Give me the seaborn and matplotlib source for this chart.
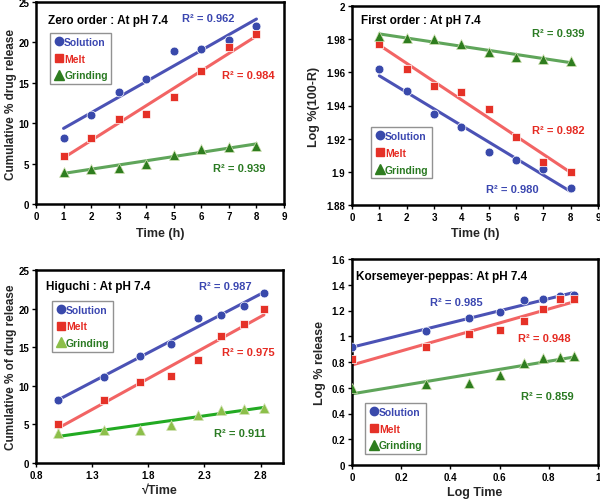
import numpy as np
import matplotlib
matplotlib.use("Agg")
import matplotlib.pyplot as plt
import seaborn as sns
from matplotlib.lines import Line2D
from matplotlib.ticker import FormatStrFormatter

sns.set_theme(style="ticks")
plt.rcParams['font.family'] = ['Liberation Sans', 'DejaVu Sans']
plt.rcParams['font.weight'] = 'bold'

# data
time_h = [1, 2, 3, 4, 5, 6, 7, 8]
sqrt_time = [1.0, 1.41, 1.73, 2.0, 2.24, 2.45, 2.65, 2.83]
log_time = [0.0, 0.301, 0.477, 0.602, 0.699, 0.778, 0.845, 0.903]

zero_solution = [8.2, 11.0, 13.9, 15.5, 18.9, 19.2, 20.3, 22.0]
zero_melt = [6.0, 8.2, 10.5, 11.2, 13.2, 16.5, 19.4, 21.0]
zero_grinding = [4.0, 4.3, 4.5, 5.0, 6.1, 6.8, 7.0, 7.2]

first_solution = [1.962, 1.949, 1.935, 1.927, 1.912, 1.907, 1.902, 1.890]
first_melt = [1.977, 1.962, 1.952, 1.948, 1.938, 1.921, 1.906, 1.900]
first_grinding = [1.982, 1.981, 1.980, 1.977, 1.972, 1.969, 1.968, 1.967]

higuchi_solution = [8.2, 11.1, 13.8, 15.4, 18.8, 19.2, 20.3, 22.0]
higuchi_melt = [5.0, 8.2, 10.5, 11.3, 13.3, 16.5, 18.0, 20.0]
higuchi_grinding = [3.9, 4.3, 4.3, 4.9, 6.2, 6.9, 7.0, 7.1]

kp_solution = [0.92, 1.04, 1.14, 1.19, 1.28, 1.29, 1.31, 1.32]
kp_melt = [0.82, 0.92, 1.02, 1.05, 1.12, 1.21, 1.29, 1.29]
kp_grinding = [0.60, 0.63, 0.64, 0.70, 0.79, 0.83, 0.84, 0.85]

series_names = ['Solution', 'Melt', 'Grinding']
r2_zero = ['0.962', '0.984', '0.939']
r2_first = ['0.980', '0.982', '0.939']
r2_higuchi = ['0.987', '0.975', '0.911']
r2_kp = ['0.985', '0.948', '0.859']

marker_colors = ['#3949ab', '#e53127', '#2e7d1f']
line_colors = ['#4b52b5', '#f26464', '#5fa55a']
text_colors = ['#3a46b0', '#e52a22', '#2a7a22']
markers = ['o', 's', '^']
msizes = [40, 36, 50]

fig = plt.figure(figsize=(6, 5.02), dpi=100)
W, H = 600, 502


def add_ax(l, t, r, b):
    return fig.add_axes([l / W, 1 - b / H, (r - l) / W, (b - t) / H])


def panel(ax, x, ys, title, r2, r2_pos, leg_pos, gcolors=None):
    mcols = list(marker_colors)
    lcols = list(line_colors)
    if gcolors:
        mcols[2], lcols[2] = gcolors
    for i, y in enumerate(ys):
        # linear trendline + points
        sns.regplot(x=np.array(x), y=np.array(y), ax=ax, scatter=False, ci=None,
                    truncate=True, line_kws=dict(color=lcols[i], lw=2.2, zorder=2))
        sns.scatterplot(x=x, y=y, ax=ax, marker=markers[i], s=msizes[i],
                        color=mcols[i], edgecolor='#cfe0b0' if i == 2 else 'white',
                        linewidth=0.5, zorder=3)
        ax.text(r2_pos[i][0], r2_pos[i][1], 'R² = ' + r2[i], transform=ax.transAxes,
                color=text_colors[i], fontsize=8, fontweight='bold', va='center')
    ax.text(title[1], title[2], title[0], transform=ax.transAxes, fontsize=8.5,
            fontweight='bold', va='center', color='black')
    handles = [Line2D([], [], ls='none', marker=markers[i], color=mcols[i],
                      markersize=6 if i < 2 else 7) for i in range(3)]
    leg = ax.legend(handles, series_names, loc='upper left', bbox_to_anchor=leg_pos,
                    frameon=True, fancybox=False, edgecolor='#777777', fontsize=7.5,
                    handletextpad=0.0, handlelength=1.0, borderpad=0.35,
                    labelspacing=0.65, borderaxespad=0)
    leg.get_frame().set_linewidth(1.0)
    for t, c in zip(leg.get_texts(), text_colors):
        t.set_color(c)
        t.set_fontweight('bold')
    for s in ax.spines.values():
        s.set_linewidth(1.8)
        s.set_color('black')
        s.set_visible(True)
    ax.tick_params(labelsize=7, width=1, length=3, colors='black', direction='out', pad=2)
    for lab in ax.get_xticklabels() + ax.get_yticklabels():
        lab.set_fontweight('bold')


# zero order
ax1 = add_ax(36, 3, 284, 205)
ax1.set_xlim(0, 9)
ax1.set_ylim(0, 25)
ax1.set_xticks(range(0, 10))
ax1.set_yticks(range(0, 26, 5))
panel(ax1, time_h, [zero_solution, zero_melt, zero_grinding],
      ('Zero order : At pH 7.4', 0.05, 0.91), r2_zero,
      [(0.59, 0.92), (0.75, 0.64), (0.715, 0.18)], (0.057, 0.845))
ax1.set_xlabel('Time (h)', fontsize=9, fontweight='bold', labelpad=4)
ax1.set_ylabel('Cumulative % drug release', fontsize=8.5, fontweight='bold', labelpad=1)

# first order
ax2 = add_ax(352, 7, 598, 206)
ax2.set_xlim(0, 9)
ax2.set_ylim(1.88, 2.0)
ax2.set_xticks(range(0, 10))
ax2.set_yticks([1.88, 1.90, 1.92, 1.94, 1.96, 1.98, 2.0])
ax2.set_yticklabels(['1.88', '1.9', '1.92', '1.94', '1.96', '1.98', '2'])
panel(ax2, time_h, [first_solution, first_melt, first_grinding],
      ('First order : At pH 7.4', 0.037, 0.93), r2_first,
      [(0.545, 0.08), (0.73, 0.377), (0.73, 0.865)], (0.077, 0.39))
ax2.set_xlabel('Time (h)', fontsize=9, fontweight='bold', labelpad=4)
ax2.set_ylabel('Log %(100-R)', fontsize=9, fontweight='bold', labelpad=4)

# higuchi
ax3 = add_ax(36, 271, 283, 464)
ax3.set_xlim(0.8, 3.0)
ax3.set_ylim(0, 25)
ax3.set_xticks([0.8, 1.3, 1.8, 2.3, 2.8])
ax3.set_yticks(range(0, 26, 5))
panel(ax3, sqrt_time, [higuchi_solution, higuchi_melt, higuchi_grinding],
      ('Higuchi : At pH 7.4', 0.04, 0.917), r2_higuchi,
      [(0.66, 0.917), (0.753, 0.575), (0.72, 0.155)], (0.065, 0.84),
      gcolors=('#8cbf4a', '#22aa22'))
ax3.set_xlabel('√Time', fontsize=9, fontweight='bold', labelpad=3)
ax3.set_ylabel('Cumulative % of drug release', fontsize=8.5, fontweight='bold', labelpad=1)

# korsmeyer-peppas
ax4 = add_ax(352, 260, 598, 466)
ax4.set_xlim(0, 1)
ax4.set_ylim(0, 1.6)
ax4.set_xticks([0, 0.2, 0.4, 0.6, 0.8, 1])
ax4.set_yticks([0, 0.2, 0.4, 0.6, 0.8, 1, 1.2, 1.4, 1.6])
ax4.xaxis.set_major_formatter(FormatStrFormatter('%g'))
ax4.yaxis.set_major_formatter(FormatStrFormatter('%g'))
panel(ax4, log_time, [kp_solution, kp_melt, kp_grinding],
      ('Korsemeyer-peppas: At pH 7.4', 0.016, 0.917), r2_kp,
      [(0.317, 0.79), (0.675, 0.615), (0.687, 0.335)], (0.053, 0.30))
ax4.set_xlabel('Log Time', fontsize=9, fontweight='bold', labelpad=3)
ax4.set_ylabel('Log % release', fontsize=9, fontweight='bold', labelpad=4)

fig.savefig('out.png', dpi=100)
